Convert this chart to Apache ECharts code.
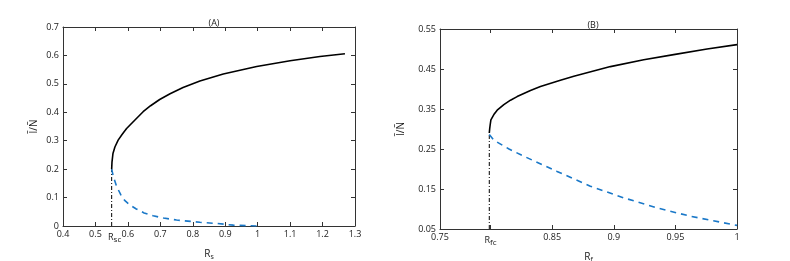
<!DOCTYPE html>
<html><head><meta charset="utf-8">
<script src="https://cdn.jsdelivr.net/npm/echarts@6/dist/echarts.min.js"></script>
<style>html,body{margin:0;padding:0;background:#fff}#c{width:790px;height:261px}</style>
</head><body><div id="c"></div>
<script>
// Panel A data
const aUpperX = [0.55,0.551,0.554,0.56,0.57,0.582,0.596,0.621,0.647,0.67,0.698,0.73,0.77,0.822,0.894,0.997,1.1,1.192,1.269];
const aUpperY = [0.2,0.225,0.255,0.278,0.302,0.322,0.343,0.372,0.402,0.423,0.445,0.465,0.487,0.51,0.535,0.561,0.581,0.596,0.606];
const aLowerX = [0.55,0.555,0.565,0.578,0.59,0.607,0.626,0.65,0.678,0.71,0.75,0.822,0.873,0.925,1.0];
const aLowerY = [0.2,0.175,0.14,0.11,0.09,0.073,0.06,0.046,0.036,0.028,0.021,0.013,0.009,0.003,0.0];
const aCrit = 0.55, aCritY = 0.2;
const aXTicks = {min:0.4, max:1.3, interval:0.1};
const aXLabelVals = [0.4,0.5,0.55,0.6,0.7,0.8,0.9,1.0,1.1,1.2,1.3];
const aXLabelText = ['0.4','0.5','R|sc','0.6','0.7','0.8','0.9','1','1.1','1.2','1.3'];
const aYTicks = {min:0, max:0.7, interval:0.1};
// Panel B data
const bUpperX = [0.799,0.7993,0.7997,0.8003,0.8027,0.8054,0.8108,0.8162,0.8216,0.8324,0.8405,0.8567,0.8676,0.8973,0.9243,0.9486,0.9757,1.0];
const bUpperY = [0.29,0.3,0.31,0.323,0.336,0.347,0.361,0.372,0.381,0.396,0.406,0.422,0.432,0.456,0.473,0.486,0.5,0.511];
const bLowerX = [0.799,0.8027,0.815,0.827,0.854,0.881,0.908,0.935,0.962,1.0];
const bLowerY = [0.286,0.272,0.25,0.232,0.194,0.157,0.128,0.103,0.082,0.059];
const bCrit = 0.799, bCritY = 0.29;
const bXRange = {min:0.759, max:1.0};
const bXTickVals = [0.8,0.85,0.9,0.95,1.0];
const bXLabelVals = [0.759,0.8,0.85,0.9,0.95,1.0];
const bXLabelText = ['0.75','R|fc','0.85','0.9','0.95','1'];
const bYTicks = {min:0.05, max:0.55, interval:0.1};

const zip = (xs, ys) => xs.map((x,i)=>[x, ys[i]]);
const FONT = 'Open Sans';
const axisCol = '#333';
const TXT = '#1a1a1a';
const lblStyle = {fontSize:9, color:TXT, fontFamily:FONT};
const rich = {
  m:{fontSize:10, fontFamily:FONT, color:TXT},
  s:{fontSize:7, fontFamily:FONT, color:TXT, padding:[6,0,0,0]},
  r:{fontSize:9, fontFamily:FONT, color:TXT, padding:[0,0,0,6]},
  rb:{fontSize:9, fontFamily:FONT, color:TXT},
  q:{fontSize:8, fontFamily:FONT, color:TXT, padding:[6,0,0,0]}
};
function makeFmt(vals, texts, shiftSub){
  return v => {
    for (let i = 0; i < vals.length; i++) {
      if (Math.abs(v - vals[i]) < 1e-6) {
        const t = texts[i];
        if (t.indexOf('|') >= 0) {
          const p = t.split('|');
          return '{' + (shiftSub ? 'r' : 'rb') + '|' + p[0] + '}{q|' + p[1] + '}';
        }
        return t;
      }
    }
    return '';
  };
}
function xAxPair(gi, rng, interval, tickVals, labelVals, fmt, name, sub){
  const tickBase = {inside:true, length:4, lineStyle:{color:axisCol}};
  if (tickVals) tickBase.customValues = tickVals;
  const base = {type:'value', gridIndex:gi, min:rng.min, max:rng.max, splitLine:{show:false}};
  if (interval) base.interval = interval;
  return [{
    ...base, position:'bottom',
    axisLine:{show:true, onZero:false, lineStyle:{color:axisCol, width:1}},
    axisTick:tickBase,
    axisLabel:{...lblStyle, margin:4, customValues:labelVals, formatter:fmt, rich},
    name:'{m|'+name+'}{s|'+sub+'}', nameLocation:'middle', nameGap:17,
    nameTextStyle:{rich}
  },{
    ...base, position:'top',
    axisLine:{show:true, onZero:false, lineStyle:{color:axisCol, width:1}},
    axisTick:tickBase,
    axisLabel:{show:false}
  }];
}
function yAx(gi, t, gap, fmt){
  return [{
    type:'value', gridIndex:gi, min:t.min, max:t.max, interval:t.interval,
    position:'left',
    axisLine:{show:true, onZero:false, lineStyle:{color:axisCol, width:1}},
    axisTick:{inside:true, length:4, lineStyle:{color:axisCol}},
    axisLabel:{...lblStyle, margin:4, formatter:fmt},
    splitLine:{show:false},
    name:'Ĩ/Ñ', nameLocation:'middle', nameGap:gap, nameRotate:90,
    nameTextStyle:{fontSize:10, fontFamily:FONT, color:TXT}
  },{
    type:'value', gridIndex:gi, min:t.min, max:t.max, interval:t.interval,
    position:'right',
    axisLine:{show:true, onZero:false, lineStyle:{color:axisCol, width:1}},
    axisTick:{inside:true, length:4, lineStyle:{color:axisCol}},
    axisLabel:{show:false}, splitLine:{show:false}
  }];
}
const fmtA = v => +v.toFixed(1) + '';
const fmtB = v => +v.toFixed(2) + '';
function critLine(xi, yi, cx, cy, ymin){
  return {
    type:'line', xAxisIndex:xi, yAxisIndex:yi, data:[[cx,ymin],[cx,cy]],
    symbol:'none', lineStyle:{color:'#000', width:1, type:[4,2,1,2]}, z:1, silent:true
  };
}
const solid = {color:'#000', width:1.6};
const dashed = {color:'#1a78c8', width:1.6, type:[6,5]};
const option = {
  animation:false,
  backgroundColor:'#fff',
  title:[
    {text:'(A)', left:209, top:14, textAlign:'center', textStyle:{fontSize:9, fontWeight:'normal', fontFamily:FONT, color:TXT}},
    {text:'(B)', left:588, top:16, textAlign:'center', textStyle:{fontSize:9, fontWeight:'normal', fontFamily:FONT, color:TXT}}
  ],
  grid:[
    {left:63, right:435, top:27, bottom:35, containLabel:false, outerBoundsMode:'none'},
    {left:440, right:53, top:29, bottom:32, containLabel:false, outerBoundsMode:'none'}
  ],
  xAxis:[
    ...xAxPair(0, aXTicks, aXTicks.interval, null, aXLabelVals, makeFmt(aXLabelVals, aXLabelText, true), 'R', 's'),
    ...xAxPair(1, bXRange, null, bXTickVals, bXLabelVals, makeFmt(bXLabelVals, bXLabelText, false), 'R', 'f')
  ],
  yAxis:[...yAx(0, aYTicks, 24, fmtA), ...yAx(1, bYTicks, 34, fmtB)],
  series:[
    critLine(0, 0, aCrit, aCritY, 0),
    {type:'line', xAxisIndex:0, yAxisIndex:0, data:zip(aUpperX,aUpperY), symbol:'none', lineStyle:solid, z:3},
    {type:'line', xAxisIndex:0, yAxisIndex:0, data:zip(aLowerX,aLowerY), symbol:'none', lineStyle:dashed, z:2},
    critLine(2, 2, bCrit, bCritY, 0.05),
    {type:'line', xAxisIndex:2, yAxisIndex:2, data:zip(bUpperX,bUpperY), symbol:'none', lineStyle:solid, z:3},
    {type:'line', xAxisIndex:2, yAxisIndex:2, data:zip(bLowerX,bLowerY), symbol:'none', lineStyle:dashed, z:2}
  ]
};
const chart = echarts.init(document.getElementById('c'), null, {renderer:'canvas'});
chart.setOption(option);
</script></body></html>
